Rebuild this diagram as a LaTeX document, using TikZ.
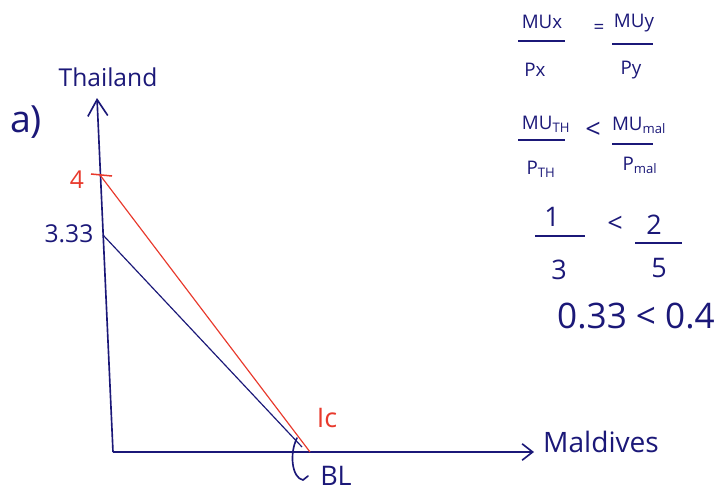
\documentclass[tikz,border=0pt]{standalone}
\usepackage{fontspec}
\setmainfont{Open Sans}
\usetikzlibrary{arrows.meta}

\begin{document}
\begin{tikzpicture}[x=0.03cm, y=-0.03cm]
    % Define colours
    \definecolor{inkColour}{HTML}{1B1878}
    \definecolor{redColour}{HTML}{E8392C}

    \tikzset{
        ink/.style={draw=inkColour, line width=1.4pt},
        redink/.style={draw=redColour, line width=1pt},
        label/.style={text=inkColour, font=\fontsize{21}{23}\selectfont, inner sep=0pt},
        redlabel/.style={text=redColour, font=\fontsize{21}{23}\selectfont, inner sep=0pt},
        eq/.style={text=inkColour, font=\fontsize{16}{18}\selectfont, inner sep=0pt},
        num/.style={text=inkColour, font=\fontsize{23}{25}\selectfont, inner sep=0pt}
    }

    % Fix the margins
    \useasboundingbox (0,0) rectangle (722,491);

    % Define the corner points of the axes
    \coordinate (O) at (113,452);
    \coordinate (yTop) at (97,98);
    \coordinate (xEnd) at (534,452);

    % Draw axes
    \draw[ink,-{Straight Barb[length=14pt,width=17pt]}] (O) -- (yTop);
    \draw[ink,-{Straight Barb[length=9pt,width=14pt]}] (O) -- (xEnd);

    % Label the axes
    \node[label] (thailand) at (108,77) {Thailand};
    \node[label, font=\fontsize{24}{26}\selectfont] (maldives) at (601,442) {Maldives};
    \node[label, font=\fontsize{32}{34}\selectfont] (part) at (26,122) {a)};

    % Define the intercepts
    \coordinate (redTop) at (100,175);
    \coordinate (blueTop) at (103,235);
    \coordinate (redEnd) at (310,452);
    \coordinate (blueEnd) at (302,447);

    % Draw the budget lines
    \draw[redink] (redTop) -- (redEnd);
    \draw[ink, line width=1pt] (blueTop) -- (blueEnd);
    \coordinate (tickL) at (91,174);
    \coordinate (tickR) at (112,176);
    \draw[redink, line width=1.3pt] (tickL) -- (tickR);

    % Intercept values
    \node[redlabel] (four) at (77,180) {4};
    \node[label] (third) at (69,234) {3.33};
    \node[redlabel, font=\fontsize{23}{25}\selectfont] (ic) at (327,418) {Ic};
    \node[label, font=\fontsize{23}{25}\selectfont] (bl) at (336,476) {BL};

    % Hook pointing to the budget line
    \coordinate (hookA) at (297,438);
    \coordinate (hookB) at (303,480);
    \coordinate (hookC) at (308,476);
    \draw[ink, line cap=round] (hookA) .. controls (289,454) and (292,478) .. (hookB) -- (hookC);

    % Draw the equations
    \node[eq] (mux) at (542,22) {MUx};
    \node[eq] (px) at (535,70) {Px};
    \node[eq] (eqsign) at (599,29) {=};
    \node[eq] (muy) at (634,23) {MUy};
    \node[eq] (py) at (631,70) {Py};
    \draw[ink] (518,41) -- (565,41);
    \draw[ink] (612,44) -- (653,44);

    \node[eq] (muth) at (546,124) {MU\textsubscript{TH}};
    \node[eq] (pth) at (541,169) {P\textsubscript{TH}};
    \node[num] (lessA) at (593,130) {<};
    \node[eq] (mumal) at (639,125) {MU\textsubscript{mal}};
    \node[eq] (pmal) at (640,165) {P\textsubscript{mal}};
    \draw[ink] (518,140) -- (565,140);
    \draw[ink] (612,144) -- (653,144);

    \node[num] (one) at (552,217) {1};
    \node[num] (three) at (559,270) {3};
    \node[num] (lessB) at (615,224) {<};
    \node[num] (two) at (654,225) {2};
    \node[num] (five) at (659,268) {5};
    \draw[ink] (535,236) -- (585,236);
    \draw[ink] (635,243) -- (682,243);

    \node[label, font=\fontsize{30}{32}\selectfont] (result) at (636,316) {0.33 < 0.4};

\end{tikzpicture}
\end{document}
